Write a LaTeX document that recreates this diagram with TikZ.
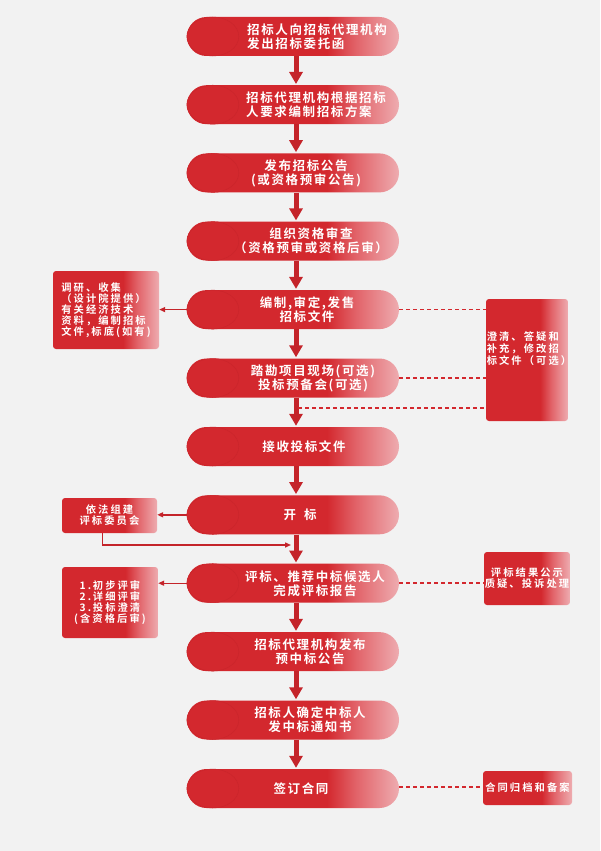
\documentclass[tikz,border=0pt]{standalone}
\usepackage{fontspec}
\usetikzlibrary{arrows.meta,calc}
\newfontfamily\cjkpill{Noto Sans CJK SC}[LetterSpace=13,BoldFont={Noto Sans CJK SC Bold}]
\newfontfamily\cjkbox{Noto Sans CJK SC}[LetterSpace=20,BoldFont={Noto Sans CJK SC Bold}]
\definecolor{cR}{RGB}{211,40,46}
\definecolor{cM}{RGB}{226,100,106}
\definecolor{cP}{RGB}{238,172,176}
\definecolor{cD}{RGB}{202,37,43}
\definecolor{cA}{RGB}{196,36,42}
\definecolor{bg}{RGB}{242,242,242}
\pgfdeclarehorizontalshading{redfade}{100bp}{color(0bp)=(cR); color(58bp)=(cR); color(65bp)=(cM); color(75bp)=(cP); color(100bp)=(cP)}
\tikzset{
  pill/.style={rectangle, rounded corners=19.5pt, minimum width=212pt, minimum height=39pt, inner sep=0pt, shading=redfade, draw=none},
  innerc/.style={draw=cD, line width=0.5pt, fill=cR},
  pilltext/.style={text=white, font=\cjkpill\bfseries\fontsize{12.5pt}{14pt}\selectfont, align=center, inner sep=0pt},
  sbox/.style={rectangle, rounded corners=3pt, inner sep=0pt, shading=redfade, draw=none, text=white, font=\cjkbox\bfseries\fontsize{10.3pt}{11pt}\selectfont, align=center},
  boxtext/.style={text=white, font=\cjkbox\bfseries\fontsize{10.3pt}{12pt}\selectfont, inner sep=0pt},
  mainarrow/.style={draw=cA, line width=5pt, -{Triangle[width=13pt,length=12pt]}},
  thinarrow/.style={draw=cA, line width=1.4pt, -{Triangle[width=5pt,length=6pt]}},
  dashline/.style={draw=cR, line width=1.5pt, dash pattern=on 4pt off 3pt}
}
\begin{document}
\begin{tikzpicture}[x=1pt,y=-1pt]
\fill[bg] (0,0) rectangle (600,851);
\useasboundingbox (0,0) rectangle (600,851);
% pills
\foreach \i/\y in {1/36.5,2/104.7,3/172.9,4/241.1,5/309.6,6/378,7/446.5,8/514.8,9/583.2,10/651.6,11/720,12/788.5}{
  \node[pill] (p\i) at (293,\y) {};
  \draw[innerc] ([xshift=26pt]p\i.west) ellipse [x radius=26pt, y radius=19.5pt];
}
% pill texts
\node[pilltext, align=left] (t1) at (317,37) {招标人向招标代理机构\\发出招标委托函};
\node[pilltext, align=left] (t2) at (316,105) {招标代理机构根据招标\\人要求编制招标方案};
\node[pilltext] (t3) at (306,173) {发布招标公告\\(或资格预审公告)};
\node[pilltext] (t4) at (311,241) {组织资格审查\\（资格预审或资格后审）};
\node[pilltext] (t5) at (307,310) {编制,审定,发售\\招标文件};
\node[pilltext] (t6) at (313,378) {踏勘项目现场(可选)\\投标预备会(可选)};
\node[pilltext] (t7) at (304,446.5) {接收投标文件};
\node[pilltext] (t8) at (300,515) {开\hspace{8pt}标};
\node[pilltext] (t9) at (315,583.5) {评标、推荐中标候选人\\完成评标报告};
\node[pilltext] (t10) at (310,652) {招标代理机构发布\\预中标公告};
\node[pilltext] (t11) at (310,720) {招标人确定中标人\\发中标通知书};
\node[pilltext] (t12) at (301,788.5) {签订合同};
% main arrows
\foreach \a/\b in {1/2,2/3,3/4,4/5,5/6,6/7,7/8,8/9,9/10,10/11,11/12}{
  \draw[mainarrow] ([xshift=3pt]p\a.south) -- ([xshift=3pt,yshift=1pt]p\b.north);
}
% left boxes
\node[sbox, minimum width=106pt, minimum height=78pt, align=left] (bA) at (106,310) {调研、收集\\（设计院提供）\\有关经济技术\\资料，编制招标\\文件,标底(如有)};
\node[sbox, minimum width=95pt, minimum height=35pt] (bC) at (109.5,515.5) {依法组建\\评标委员会};
\node[sbox, minimum width=96pt, minimum height=71pt] (bF) at (110,602.5) {1.\,初步评审\\2.\,详细评审\\3.\,投标澄清\\(含资格后审)};
% right boxes
\node[sbox, minimum width=82pt, minimum height=122pt] (bB) at (527,360) {};
\node[boxtext, align=left] (tB) at (529,349) {澄清、答疑和\\补充，修改招\\标文件（可选）};
\node[sbox, minimum width=86pt, minimum height=53pt] (bD) at (527,578.5) {评标结果公示\\质疑、投诉处理};
\node[sbox, minimum width=89pt, minimum height=34pt] (bE) at (527.5,788) {合同归档和备案};
% left connectors
\draw[thinarrow] (p5.west) -- (p5.west -| bA.east);
\draw[thinarrow] (p8.west) -- (p8.west -| bC.east);
\draw[thinarrow] (p9.west) -- (p9.west -| bF.east);
\coordinate (c4) at (291,545);
\draw[thinarrow] ([xshift=-7pt]bC.south) |- (c4);
% dashed connectors
\draw[dashline] (p5.east) -- (p5.east -| bB.west);
\draw[dashline] (p6.east) -- (p6.east -| bB.west);
\coordinate (c3) at (298,408);
\draw[dashline] (c3) -- (c3 -| bB.west);
\draw[dashline] (p9.east) -- (p9.east -| bD.west);
\draw[dashline] ([yshift=1.5pt]p12.east) -- ([yshift=1.5pt]p12.east -| bE.west);
\end{tikzpicture}
\end{document}
